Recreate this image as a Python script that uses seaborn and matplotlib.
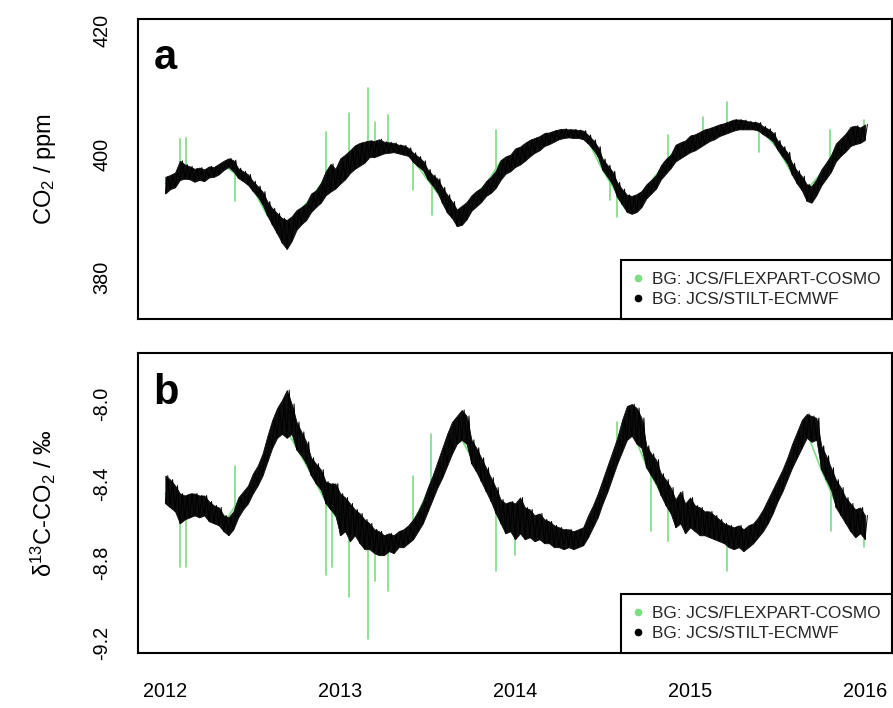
import numpy as np
import pandas as pd
import matplotlib
matplotlib.use("Agg")
import matplotlib.pyplot as plt
import seaborn as sns
from matplotlib.lines import Line2D

# ---------------- data ----------------
# STILT-ECMWF background: lower / upper edge of the hourly band,
# 3 readings per month (days ~1, 11, 21), Jan 2012 .. Jan 2016
co2_stilt_lo = [
    393.6, 394.3, 394.6, 395.8, 396.0, 395.9, 395.5, 395.8, 395.6, 396.2, 396.3, 396.7,
    397.4, 397.9, 397.2, 396.1, 395.6, 395.0, 394.0, 393.1, 391.8, 390.0, 388.5, 387.1,
    385.6, 384.6, 385.9, 387.7, 388.6, 389.3, 390.6, 391.4, 392.1, 393.3, 393.9, 394.4,
    395.2, 395.9, 396.9, 397.6, 398.1, 398.6, 399.5, 399.5, 399.8, 400.1, 400.2, 400.3,
    400.1, 399.9, 399.7, 398.7, 398.0, 397.4, 395.9, 394.9, 393.8, 392.0, 390.5, 389.6,
    388.3, 388.5, 389.4, 390.8, 391.5, 392.2, 393.2, 393.7, 394.5, 395.8, 396.8, 397.2,
    397.9, 398.3, 398.9, 399.6, 400.2, 400.6, 401.3, 401.6, 402.0, 402.4, 402.6, 402.7,
    402.6, 402.6, 402.4, 401.7, 400.8, 399.6, 397.4, 396.3, 395.1, 393.0, 391.8, 390.6,
    390.3, 390.6, 391.4, 392.8, 393.6, 394.4, 395.9, 396.8, 397.7, 398.8, 399.3, 399.8,
    400.3, 400.6, 401.1, 401.6, 402.1, 402.4, 402.9, 403.2, 403.5, 403.8, 404.0, 404.0,
    404.0, 404.0, 403.8, 403.2, 402.7, 402.1, 400.7, 399.6, 398.5, 396.6, 395.2, 394.1,
    392.4, 392.1, 393.3, 394.9, 396.0, 397.1, 398.8, 399.7, 400.4, 401.3, 401.6, 401.8,
    402.3,
]
co2_stilt_hi = [
    396.3, 396.6, 397.0, 398.9, 398.3, 398.0, 397.6, 397.8, 397.5, 398.0, 397.9, 398.4,
    398.9, 399.3, 399.0, 397.7, 397.2, 396.7, 395.6, 394.8, 393.9, 392.3, 391.2, 390.4,
    389.6, 389.3, 389.9, 390.9, 391.4, 392.0, 393.6, 394.1, 395.3, 397.2, 398.4, 397.6,
    399.3, 399.9, 400.6, 401.4, 401.8, 402.0, 402.2, 402.1, 402.4, 402.0, 401.9, 401.8,
    401.5, 401.4, 401.0, 400.2, 399.6, 398.9, 397.5, 396.6, 396.0, 394.6, 393.4, 392.3,
    391.0, 391.6, 392.2, 393.3, 394.0, 394.5, 395.6, 396.3, 397.3, 399.0, 399.6, 399.9,
    400.9, 401.2, 401.8, 402.3, 402.6, 402.9, 403.4, 403.5, 403.8, 404.0, 404.1, 404.0,
    404.0, 403.9, 403.8, 403.1, 402.3, 401.2, 399.2, 398.2, 397.2, 395.4, 394.3, 393.4,
    393.2, 393.5, 394.0, 395.1, 395.8, 396.6, 398.2, 399.2, 399.9, 401.5, 401.9, 402.2,
    403.0, 403.2, 403.6, 404.0, 404.2, 404.5, 404.8, 405.0, 405.3, 405.6, 405.6, 405.5,
    405.3, 405.2, 405.1, 404.5, 404.1, 403.5, 402.2, 401.2, 400.3, 398.5, 397.3, 396.4,
    395.1, 394.8, 395.9, 397.5, 398.6, 399.8, 401.7, 402.5, 403.3, 404.4, 404.6, 404.3,
    404.8,
]
d13c_stilt_lo = [
    -8.50, -8.52, -8.54, -8.60, -8.58, -8.57, -8.56, -8.57, -8.56, -8.59, -8.60, -8.61,
    -8.64, -8.66, -8.63, -8.57, -8.53, -8.50, -8.45, -8.41, -8.36, -8.29, -8.22, -8.17,
    -8.15, -8.17, -8.15, -8.23, -8.26, -8.30, -8.36, -8.40, -8.43, -8.50, -8.53, -8.56,
    -8.66, -8.64, -8.69, -8.66, -8.70, -8.73, -8.73, -8.75, -8.76, -8.76, -8.74, -8.75,
    -8.72, -8.72, -8.70, -8.68, -8.64, -8.60, -8.54, -8.48, -8.42, -8.37, -8.31, -8.25,
    -8.20, -8.18, -8.20, -8.30, -8.34, -8.39, -8.44, -8.49, -8.55, -8.60, -8.65, -8.64,
    -8.68, -8.65, -8.68, -8.67, -8.69, -8.68, -8.70, -8.70, -8.72, -8.72, -8.73, -8.72,
    -8.73, -8.72, -8.71, -8.67, -8.62, -8.57, -8.50, -8.44, -8.37, -8.30, -8.24, -8.18,
    -8.16, -8.20, -8.22, -8.32, -8.36, -8.40, -8.46, -8.51, -8.55, -8.62, -8.60, -8.65,
    -8.62, -8.64, -8.66, -8.66, -8.67, -8.68, -8.69, -8.70, -8.72, -8.73, -8.72, -8.74,
    -8.72, -8.70, -8.67, -8.64, -8.60, -8.55, -8.49, -8.44, -8.38, -8.32, -8.27, -8.22,
    -8.17, -8.19, -8.18, -8.33, -8.38, -8.43, -8.52, -8.56, -8.60, -8.64, -8.67, -8.65,
    -8.68,
]
d13c_stilt_hi = [
    -8.36, -8.38, -8.41, -8.45, -8.46, -8.45, -8.45, -8.46, -8.46, -8.49, -8.51, -8.52,
    -8.56, -8.57, -8.54, -8.47, -8.44, -8.41, -8.35, -8.31, -8.25, -8.16, -8.08, -8.02,
    -7.98, -7.93, -8.00, -8.09, -8.14, -8.19, -8.27, -8.30, -8.33, -8.39, -8.40, -8.40,
    -8.45, -8.47, -8.50, -8.53, -8.55, -8.58, -8.60, -8.63, -8.64, -8.66, -8.65, -8.66,
    -8.64, -8.63, -8.61, -8.58, -8.54, -8.49, -8.42, -8.36, -8.29, -8.22, -8.15, -8.09,
    -8.06, -8.03, -8.06, -8.18, -8.22, -8.27, -8.32, -8.37, -8.42, -8.48, -8.50, -8.49,
    -8.50, -8.47, -8.52, -8.53, -8.56, -8.55, -8.58, -8.59, -8.61, -8.62, -8.63, -8.63,
    -8.64, -8.63, -8.62, -8.56, -8.51, -8.45, -8.38, -8.31, -8.24, -8.17, -8.08, -8.01,
    -8.00, -8.02, -8.07, -8.21, -8.25, -8.28, -8.35, -8.38, -8.42, -8.48, -8.44, -8.50,
    -8.47, -8.51, -8.52, -8.54, -8.54, -8.56, -8.58, -8.60, -8.61, -8.62, -8.61, -8.63,
    -8.61, -8.60, -8.57, -8.53, -8.48, -8.43, -8.38, -8.33, -8.27, -8.20, -8.14, -8.08,
    -8.05, -8.06, -8.07, -8.21, -8.26, -8.32, -8.38, -8.42, -8.47, -8.50, -8.53, -8.52,
    -8.56,
]
# FLEXPART-COSMO background: monthly readings, Jan 2012 .. Jan 2016
co2_flex_monthly = [
    395.2, 397.5, 396.5, 397.2, 398.3, 396.4, 394.4, 390.0, 387.9, 390.2, 392.9, 396.2,
    397.8, 400.2, 401.3, 401.5, 401.2, 399.0, 395.8, 392.6, 389.9, 392.9, 395.1, 398.8,
    399.9, 401.5, 402.7, 403.5, 403.6, 402.1, 397.4, 393.5, 391.4, 394.6, 397.6, 400.7,
    402.0, 403.2, 404.2, 405.0, 404.9, 403.6, 400.9, 396.8, 394.2, 396.9, 400.9, 403.3,
    403.9,
]
d13c_flex_monthly = [
    -8.45, -8.53, -8.50, -8.56, -8.60, -8.49, -8.40, -8.20, -8.09, -8.22, -8.35, -8.49,
    -8.60, -8.62, -8.68, -8.71, -8.68, -8.60, -8.44, -8.29, -8.13, -8.27, -8.42, -8.58,
    -8.62, -8.62, -8.65, -8.68, -8.68, -8.60, -8.41, -8.22, -8.13, -8.31, -8.45, -8.58,
    -8.57, -8.60, -8.65, -8.68, -8.66, -8.60, -8.42, -8.26, -8.14, -8.33, -8.50, -8.58,
    -8.63,
]
# FLEXPART-COSMO short excursions: month since Jan 2012, base level, extreme value
co2_flex_spike_month = [1.0, 1.4, 4.8, 11.0, 12.6, 13.9, 14.4, 15.3, 17.0, 18.3, 22.7,
                        30.5, 31.0, 34.5, 36.9, 38.5, 40.7, 45.6, 47.9]
co2_flex_spike_base = [397.5, 397.2, 397.0, 396.2, 398.8, 401.0, 401.3, 401.4, 399.0, 395.4, 397.8,
                       396.0, 393.5, 399.0, 403.0, 404.6, 404.0, 398.5, 403.6]
co2_flex_spike_value = [402.5, 402.6, 392.3, 403.6, 406.6, 410.7, 405.2, 406.3, 394.2, 390.1, 403.9,
                        392.5, 389.8, 403.1, 406.0, 408.5, 400.4, 403.9, 405.5]
d13c_flex_spike_month = [1.0, 1.4, 4.8, 11.0, 11.4, 12.6, 13.9, 14.4, 15.3, 17.0, 18.2, 22.7,
                         24.0, 31.0, 33.3, 34.5, 38.5, 45.7, 47.9]
d13c_flex_spike_base = [-8.53, -8.52, -8.52, -8.49, -8.53, -8.61, -8.67, -8.69, -8.71, -8.60, -8.42, -8.53,
                        -8.62, -8.22, -8.35, -8.50, -8.66, -8.40, -8.62]
d13c_flex_spike_value = [-8.82, -8.82, -8.31, -8.86, -8.82, -8.97, -9.18, -8.89, -8.94, -8.36, -8.15, -8.84,
                         -8.76, -8.09, -8.64, -8.69, -8.84, -8.64, -8.72]

year_ticks = [2012, 2013, 2014, 2015, 2016]
legend_labels = ["BG: JCS/FLEXPART-COSMO", "BG: JCS/STILT-ECMWF"]
GREEN = "#7CDD84"

# ---------------- build tables ----------------
t_fine = 2012 + np.arange(len(co2_stilt_lo)) / 36.0
t_month = 2012 + np.arange(len(co2_flex_monthly)) / 12.0


def band_table(lo, hi):
    # hourly band drawn as a min/max trace: low edge, then high edge half a step later
    t = np.empty(2 * len(lo))
    v = np.empty(2 * len(lo))
    t[0::2] = t_fine
    t[1::2] = t_fine + 1 / 72.0
    v[0::2] = lo
    v[1::2] = hi
    return pd.DataFrame({"t": t, "v": v})


def spike_table(months, base, value):
    rows = []
    for i, (m, b, v) in enumerate(zip(months, base, value)):
        rows.append({"id": i, "k": 0, "t": 2012 + m / 12.0, "v": b})
        rows.append({"id": i, "k": 1, "t": 2012 + m / 12.0, "v": v})
    return pd.DataFrame(rows)


co2_st = band_table(co2_stilt_lo, co2_stilt_hi)
d13c_st = band_table(d13c_stilt_lo, d13c_stilt_hi)
co2_fl = pd.DataFrame({"t": t_month, "v": co2_flex_monthly})
d13c_fl = pd.DataFrame({"t": t_month, "v": d13c_flex_monthly})
co2_sp = spike_table(co2_flex_spike_month, co2_flex_spike_base, co2_flex_spike_value)
d13c_sp = spike_table(d13c_flex_spike_month, d13c_flex_spike_base, d13c_flex_spike_value)

# ---------------- style ----------------
sns.set_theme(style="white")
plt.rcParams["font.family"] = ["Liberation Sans", "DejaVu Sans"]
plt.rcParams["mathtext.fontset"] = "custom"
plt.rcParams["mathtext.rm"] = "Liberation Sans"
plt.rcParams["mathtext.it"] = "Liberation Sans:italic"
plt.rcParams["mathtext.bf"] = "Liberation Sans:bold"
plt.rcParams["axes.unicode_minus"] = False

fig = plt.figure(figsize=(8.93, 7.08), dpi=100)
W = 0.845
ax_a = fig.add_axes([0.1542, 0.549, W, 0.4237])
ax_b = fig.add_axes([0.1542, 0.0777, W, 0.4241])

panels = [
    (ax_a, co2_fl, co2_sp, co2_st, co2_stilt_lo, co2_stilt_hi, (373.19, 421.85),
     [380, 390, 400, 410, 420], ["380", "", "400", "", "420"], "CO$_2$ / ppm", "a", 0.834),
    (ax_b, d13c_fl, d13c_sp, d13c_st, d13c_stilt_lo, d13c_stilt_hi, (-9.252, -7.742),
     [-9.2, -9.0, -8.8, -8.6, -8.4, -8.2, -8.0, -7.8],
     ["-9.2", "", "-8.8", "", "-8.4", "", "-8.0", ""],
     "δ$^{13}$C-CO$_2$ / ‰", "b", 0.830),
]

for ax, fl, sp, st, lo, hi, ylim, yt, ytl, ylab, letter, ly in panels:
    sns.lineplot(data=fl, x="t", y="v", ax=ax, color=GREEN, lw=1.2, zorder=1,
                 estimator=None, sort=False, legend=False)
    sns.lineplot(data=sp, x="t", y="v", units="id", ax=ax, color=GREEN, lw=1.2,
                 zorder=1, estimator=None, sort=False, legend=False)
    ax.fill_between(t_fine, lo, hi, facecolor="#0d0d0d", edgecolor="#0d0d0d",
                    alpha=1.0, lw=0.6, zorder=1.5)
    sns.lineplot(data=st, x="t", y="v", ax=ax, color="black", lw=0.7, zorder=2,
                 estimator=None, sort=False, legend=False)
    ax.set_xlim(2011.842, 2016.156)
    ax.set_ylim(*ylim)
    ax.set_xticks(year_ticks)
    ax.set_yticks(yt)
    ax.set_yticklabels(ytl, rotation=90, va="center")
    ax.tick_params(axis="both", direction="out", length=10, width=1.2,
                   color="black", labelsize=14.3, labelcolor="black")
    ax.tick_params(axis="y", pad=9)
    ax.tick_params(axis="x", pad=11)
    ax.set_xlabel("")
    ax.set_ylabel(ylab, fontsize=17, color="black")
    ax.yaxis.set_label_coords(-0.106, 0.5)
    for s in ax.spines.values():
        s.set_color("black")
        s.set_linewidth(1.5)
        s.set_visible(True)
    ax.text(0.021, ly, letter, transform=ax.transAxes, fontsize=30,
            fontweight="bold", va="baseline", ha="left", color="black")
    handles = [
        Line2D([], [], ls="none", marker="o", ms=4.5, color=GREEN, mec=GREEN),
        Line2D([], [], ls="none", marker="o", ms=4.5, color="black", mec="black"),
    ]
    leg = ax.legend(handles, legend_labels, loc="lower right", borderaxespad=0,
                    fontsize=12.4, frameon=True, fancybox=False, framealpha=1,
                    borderpad=0.7, handlelength=0.5, handletextpad=0.55,
                    labelspacing=0.3)
    leg.get_frame().set_edgecolor("black")
    leg.get_frame().set_linewidth(1.5)

ax_a.set_xticklabels([])
ax_b.set_xticklabels([str(y) for y in year_ticks])

fig.savefig("out.png", dpi=100, facecolor="white")
